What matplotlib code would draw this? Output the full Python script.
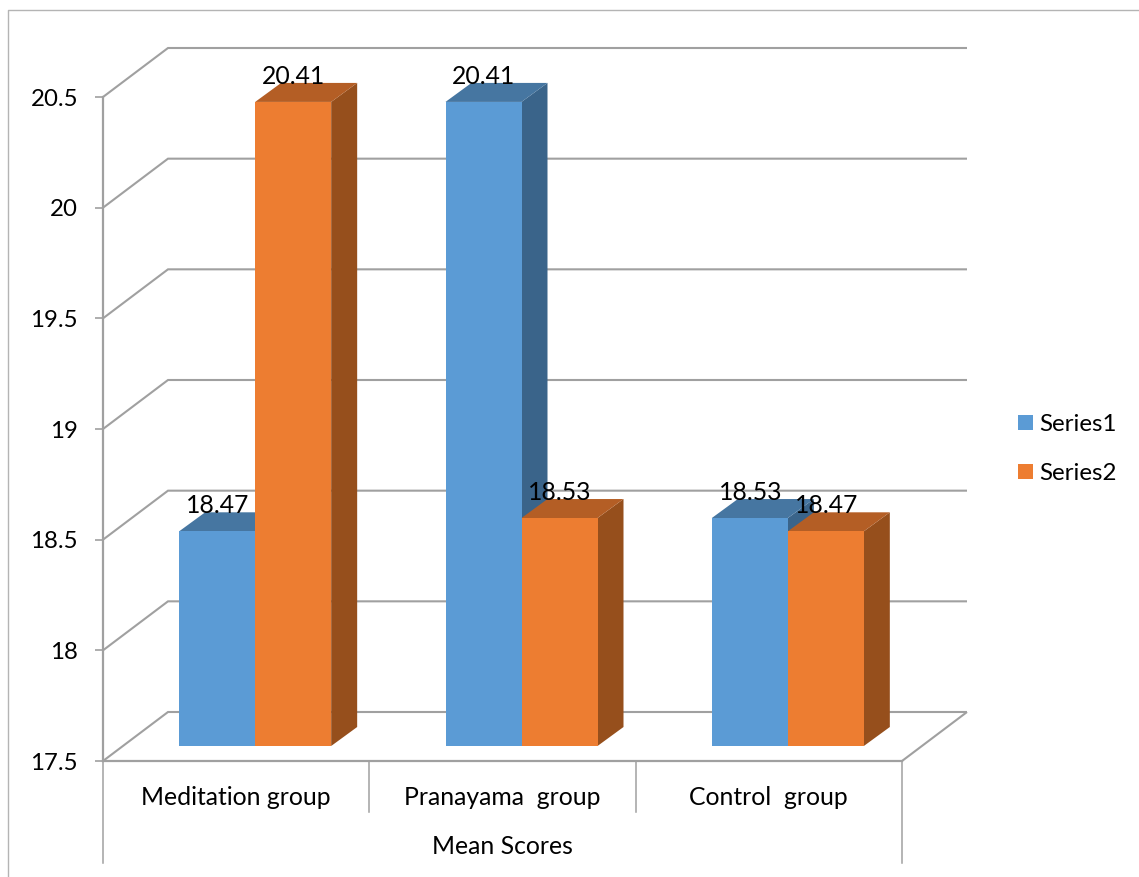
import numpy as np
import matplotlib
matplotlib.use("Agg")
import matplotlib.pyplot as plt
from matplotlib.lines import Line2D
from matplotlib.patches import Patch, Polygon

categories = ["Meditation group", "Pranayama  group", "Control  group"]
axis_title = "Mean Scores"
series_names = ["Series1", "Series2"]
series1 = [18.47, 20.41, 18.53]
series2 = [20.41, 18.53, 18.47]
yticks = [17.5, 18, 18.5, 19, 19.5, 20, 20.5]
ytick_labels = ["17.5", "18", "18.5", "19", "19.5", "20", "20.5"]

W, H = 1139, 877
plt.rcParams["font.family"] = ["Lato", "DejaVu Sans"]
FS = 17.8
GRID = "#a0a0a0"

# front plane of the 3D box, in pixels
L, R, B, T = 103, 902, 761, 97

fig = plt.figure(figsize=(W / 100, H / 100), dpi=100)
ax = fig.add_axes([L / W, 1 - B / H, (R - L) / W, (B - T) / H])
ax.set_xlim(0, 3)
ax.set_ylim(17.5, 20.5)
ax.patch.set_visible(False)

# data units per pixel, for the oblique depth offsets
ux = 3 / (R - L)
uy = 3 / (B - T)
wall_dx, wall_dy = 65 * ux, 49 * uy
front_dx, front_dy = 19 * ux, 15 * uy
side_dx, side_dy = 26 * ux, 19 * uy
bar_w = 76 * ux


def grey_line(xs, ys, lw=1.5, z=1):
    ax.add_line(Line2D(xs, ys, color=GRID, lw=lw, zorder=z, clip_on=False,
                       solid_capstyle="butt", solid_joinstyle="miter"))


# gridlines run back along the side wall then across the rear wall
for v in yticks:
    grey_line([0, wall_dx, 3 + wall_dx], [v, v + wall_dy, v + wall_dy])
grey_line([3, 3 + wall_dx], [17.5, 17.5 + wall_dy])


def draw_bar(x0, value, front, top, side):
    # bars stand part way into the box, so they shift up and right by the same offset
    base = 17.5 + front_dy
    x0 = x0 + front_dx
    x1 = x0 + bar_w
    v = value + front_dy
    ax.add_patch(Polygon([(x1, base), (x1 + side_dx, base + side_dy), (x1 + side_dx, v + side_dy), (x1, v)],
                         closed=True, fc=side, ec="none", zorder=3, clip_on=False))
    ax.add_patch(Polygon([(x0, v), (x0 + side_dx, v + side_dy), (x1 + side_dx, v + side_dy), (x1, v)],
                         closed=True, fc=top, ec="none", zorder=3, clip_on=False))
    ax.add_patch(Polygon([(x0, base), (x1, base), (x1, v), (x0, v)],
                         closed=True, fc=front, ec="none", zorder=3, clip_on=False))
    ax.annotate(f"{value:.2f}", (x0 + bar_w / 2, v), xytext=(0.3, 18.5), textcoords="offset points",
                ha="center", va="center", fontsize=FS, color="black", zorder=5, annotation_clip=False)


for i in range(len(categories)):
    draw_bar(i + 0.5 - bar_w, series1[i], "#5b9bd5", "#4676a1", "#3a648a")
    draw_bar(i + 0.5, series2[i], "#ed7d31", "#b45e25", "#964f1c")

# axis lines and tick labels
for s in ["top", "right"]:
    ax.spines[s].set_visible(False)
for s in ["left", "bottom"]:
    ax.spines[s].set_color(GRID)
    ax.spines[s].set_linewidth(1.6)
    ax.spines[s].set_zorder(2)
ax.set_yticks(yticks, ytick_labels, fontsize=FS - 0.5)
ax.tick_params(axis="y", length=6, width=1.2, color=GRID, pad=12)
ax.set_xticks(np.arange(len(categories)) + 0.5, categories, fontsize=FS)
ax.tick_params(axis="x", length=0, pad=18)

# multi-level category axis dividers
trans = ax.get_xaxis_transform()
for x, drop in [(0, 102), (1, 51), (2, 51), (3, 102)]:
    ax.add_line(Line2D([x, x], [0, -drop / (B - T)], transform=trans, color=GRID, lw=1.1,
                       clip_on=False, zorder=1))
ax.text(1.5, -86 / (B - T), axis_title, transform=trans, ha="center", va="center", fontsize=FS)

# chart area border
fig.add_artist(Line2D([8 / W, 8 / W, 1], [0, 1 - 10 / H, 1 - 10 / H], color="#b4b4b4", lw=1))

handles = [Patch(fc="#5b9bd5", ec="none"), Patch(fc="#ed7d31", ec="none")]
fig.legend(handles, series_names, loc="center left", bbox_to_anchor=(1011 / W, 1 - 449 / H),
           frameon=False, fontsize=FS - 0.4, handlelength=0.62, handleheight=0.62, handletextpad=0.25,
           labelspacing=1.15, borderpad=0.3, borderaxespad=0)

fig.savefig("out.png", dpi=100)
plt.close(fig)
